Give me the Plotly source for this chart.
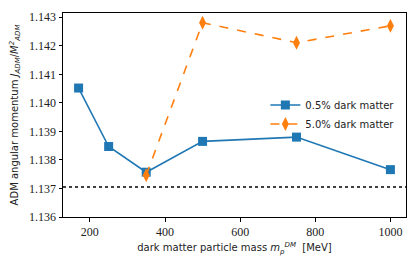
import plotly.graph_objects as go

mass_low = [170, 250, 350, 500, 750, 1000]
j_low = [1.14052, 1.13847, 1.13757, 1.13865, 1.13880, 1.13766]
mass_high = [350, 500, 750, 1000]
j_high = [1.13746, 1.14281, 1.14211, 1.14270]
ref_value = 1.13705
x_ticks = [200, 400, 600, 800, 1000]
y_ticks = [1.136, 1.137, 1.138, 1.139, 1.140, 1.141, 1.142, 1.143]

blue = "#1f77b4"
orange = "#ff7f0e"
serif = "Liberation Serif, DejaVu Serif, serif"
sans = "DejaVu Sans, sans-serif"

fig = go.Figure()
fig.add_trace(go.Scatter(
    x=mass_low, y=j_low, mode="lines+markers", name="0.5% dark matter",
    line=dict(color=blue, width=1.6),
    marker=dict(symbol="square", size=9, color=blue),
))
fig.add_trace(go.Scatter(
    x=mass_high, y=j_high, mode="lines+markers", name="5.0% dark matter",
    line=dict(color=orange, width=1.6, dash="dash"),
    marker=dict(symbol="diamond-tall", size=10, color=orange),
))
fig.add_shape(type="line", xref="paper", x0=0, x1=1, yref="y", y0=ref_value, y1=ref_value,
              line=dict(color="black", width=1.6, dash="dot"))

fig.update_layout(
    width=415, height=265,
    margin=dict(l=63, r=9, t=13, b=48, autoexpand=False),
    paper_bgcolor="white", plot_bgcolor="white",
    showlegend=True,
    legend=dict(x=0.59, y=0.62, xanchor="left", yanchor="top",
                bgcolor="rgba(255,255,255,0)", font=dict(family=sans, size=10, color="#222"),
                itemwidth=30, tracegroupgap=0),
    xaxis=dict(range=[128.5, 1041.5], tickvals=x_ticks, ticks="outside", ticklen=3.5,
               tickcolor="black", showline=True, linecolor="black", linewidth=1, mirror=True,
               showgrid=False, zeroline=False, automargin=False,
               tickfont=dict(family=serif, size=12, color="#222"),
               title=dict(text="dark matter particle mass <i>m<sub>p</sub><sup>DM</sup></i>  [MeV]",
                          font=dict(family=sans, size=10, color="#222"), standoff=6)),
    yaxis=dict(range=[1.136, 1.14315], tickvals=y_ticks, tickformat=".3f", ticks="outside",
               ticklen=3.5, tickcolor="black", showline=True, linecolor="black", linewidth=1,
               mirror=True, showgrid=False, zeroline=False, automargin=False,
               tickfont=dict(family=serif, size=12, color="#222"),
               title=dict(text="ADM angular momentum <i>J<sub>ADM</sub></i>/<i>M<sup>2</sup><sub>ADM</sub></i>",
                          font=dict(family=sans, size=10, color="#222"), standoff=8)),
)

fig.write_html("out.html", config={"displayModeBar": False},
               post_script="document.body.style.margin='0';")
